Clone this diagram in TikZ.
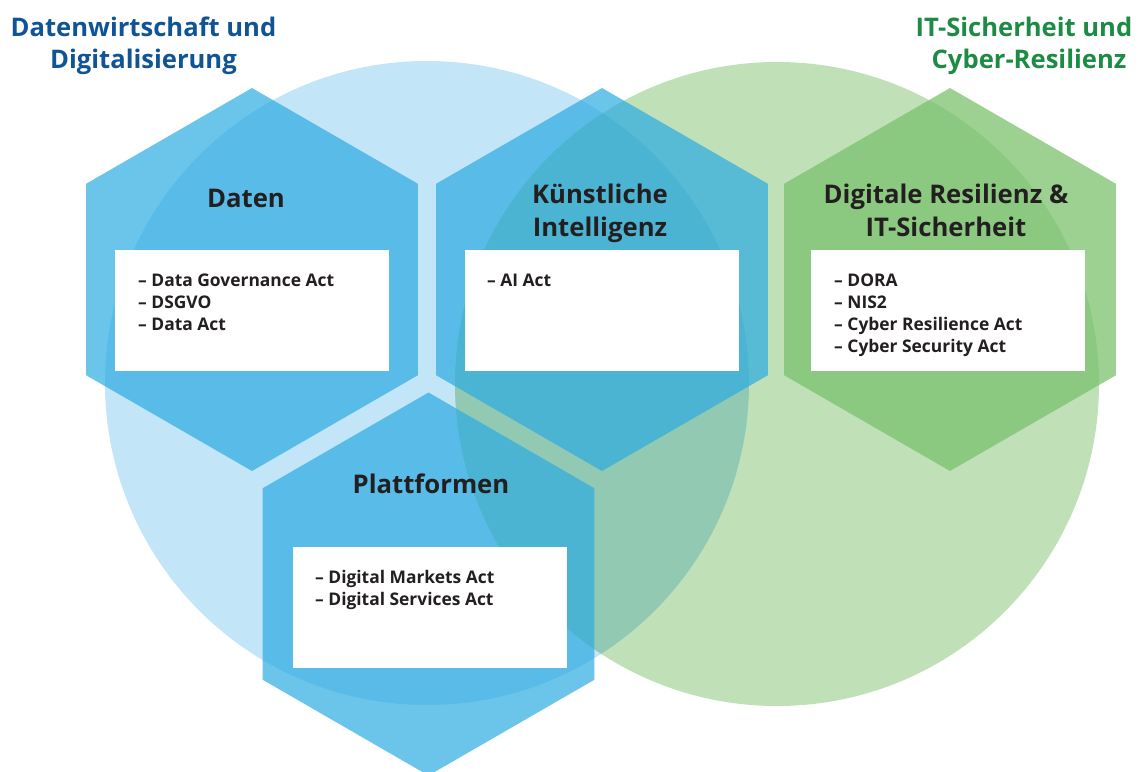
\documentclass[tikz,border=0pt]{standalone}
\usepackage{fontspec}
\setmainfont{Open Sans}
\definecolor{bluecirc}{RGB}{194,229,248}
\definecolor{greencirc}{RGB}{192,224,184}
\definecolor{overlapc}{RGB}{146,201,178}
\definecolor{hexb}{RGB}{45,172,226}
\definecolor{hexg}{RGB}{123,194,110}
\definecolor{hdrblue}{RGB}{14,84,150}
\definecolor{hdrgreen}{RGB}{28,140,68}
\definecolor{txt}{RGB}{35,31,32}
\newcommand\myhex[4]{\fill[#1] (#2,#3) +(90:#4) -- +(30:#4) -- +(-30:#4) -- +(-90:#4) -- +(-150:#4) -- +(150:#4) -- cycle;}
\begin{document}
\begin{tikzpicture}[x=1pt,y=-1pt,
  hexblue/.style={fill=hexb, fill opacity=0.7},
  hexgreen/.style={fill=hexg, fill opacity=0.75},
  listbox/.style={fill=white, draw=none, minimum width=274pt, minimum height=121pt, inner sep=0pt},
  hextitle/.style={font=\fontsize{25.7}{33}\selectfont\bfseries, text=txt, anchor=base, inner sep=0pt},
  item/.style={font=\fontsize{17.4}{22}\selectfont\bfseries, text=txt, anchor=base west, inner sep=0pt},
  hdr/.style={font=\fontsize{25.6}{33}\selectfont\bfseries, anchor=base, inner sep=0pt}]
\useasboundingbox (0,0) rectangle (1139,771);
\fill[white] (0,0) rectangle (1139,771);
% circles
\fill[bluecirc] (427,383) circle (322);
\fill[greencirc] (777,384) circle (322);
\begin{scope}
  \clip (427,383) circle (322);
  \fill[overlapc] (777,384) circle (322);
\end{scope}
% hexagons
\myhex{hexblue}{252}{279.5}{191.5}
\myhex{hexblue}{602}{279.5}{191.5}
\myhex{hexgreen}{950}{279.5}{191.5}
\myhex{hexblue}{428.5}{584}{191.5}
% headers
\node[hdr, text=hdrblue] (h1a) at (143.5,36) {Datenwirtschaft und};
\node[hdr, text=hdrblue] (h1b) at (143.5,68) {Digitalisierung};
\node[hdr, text=hdrgreen] (h2a) at (1024,36) {IT-Sicherheit und};
\node[hdr, text=hdrgreen] (h2b) at (1029,68) {Cyber-Resilienz};
% hex titles
\node[hextitle] (tdaten) at (246,207) {Daten};
\node[hextitle] (tki1) at (600,203) {Künstliche};
\node[hextitle] (tki2) at (600,236) {Intelligenz};
\node[hextitle] (tdig1) at (946,203) {Digitale Resilienz \&};
\node[hextitle] (tdig2) at (946,236) {IT-Sicherheit};
\node[hextitle] (tplatt) at (431,493) {Plattformen};
% boxes
\node[listbox] (bdaten) at (252,310.5) {};
\node[listbox] (bki) at (602,310.5) {};
\node[listbox] (bdig) at (948,310.5) {};
\node[listbox] (bplatt) at (430,607) {};
% items
\node[item] (d1) at (138,286) {– Data Governance Act};
\node[item] (d2) at (138,308) {– DSGVO};
\node[item] (d3) at (138,330) {– Data Act};
\node[item] (k1) at (487,286) {– AI Act};
\node[item] (g1) at (834,286) {– DORA};
\node[item] (g2) at (834,308) {– NIS2};
\node[item] (g3) at (834,330) {– Cyber Resilience Act};
\node[item] (g4) at (834,352) {– Cyber Security Act};
\node[item] (p1) at (315,583) {– Digital Markets Act};
\node[item] (p2) at (315,605) {– Digital Services Act};
\end{tikzpicture}
\end{document}
